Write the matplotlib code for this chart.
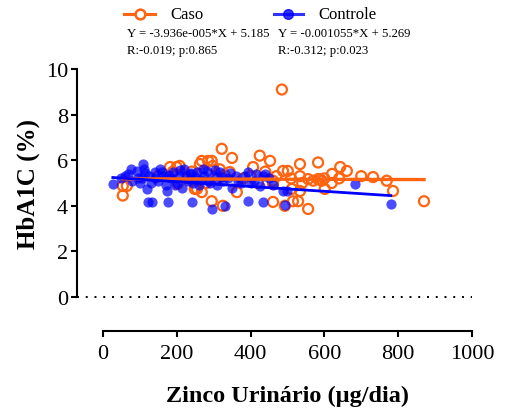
import numpy as np
import matplotlib
matplotlib.use("Agg")
import matplotlib.pyplot as plt
from matplotlib.lines import Line2D

# ---- data ----
caso_x = [54, 54, 65, 150, 182, 190, 200, 203, 208, 230, 241, 249, 255, 263, 268, 268,
          280, 285, 295, 295, 298, 310, 317, 322, 325, 330, 344, 350, 363, 380, 400,
          407, 420, 425, 440, 453, 461, 461, 461, 470, 485, 488, 493, 501, 510, 512,
          515, 529, 534, 534, 534, 540, 556, 556, 570, 583, 583, 588, 593, 600, 601,
          620, 621, 640, 643, 661, 700, 732, 769, 786, 870]
caso_y = [4.87, 4.45, 4.87, 5.3, 5.7, 5.5, 5.7, 4.96, 5.75, 5.2, 5.5, 4.74, 4.74, 5.83,
          5.97, 4.6, 5.0, 5.97, 5.97, 4.2, 5.75, 5.2, 5.6, 6.5, 4.0, 5.35, 5.48, 6.1,
          4.6, 5.2, 5.3, 5.7, 5.0, 6.2, 5.5, 5.97, 5.1, 4.96, 4.17, 5.3, 9.1, 5.53,
          4.0, 5.53, 5.2, 4.74, 4.2, 4.2, 5.83, 5.3, 4.65, 5.0, 5.17, 3.86, 5.1, 5.9,
          5.17, 5.17, 5.1, 5.2, 4.74, 5.0, 5.4, 5.2, 5.7, 5.53, 5.3, 5.26, 5.1, 4.65, 4.2]

controle_x = [27, 50, 60, 68, 75, 80, 92, 95, 100, 105, 108, 112, 115, 119, 122, 125,
              130, 133, 140, 141, 150, 155, 160, 163, 170, 173, 176, 180, 185, 190,
              195, 200, 205, 210, 215, 220, 225, 230, 235, 240, 241, 245, 250, 255,
              260, 265, 270, 275, 282, 285, 290, 295, 300, 305, 310, 317, 320, 325,
              330, 340, 345, 350, 360, 365, 375, 385, 393, 393, 400, 410, 415, 425,
              434, 434, 439, 450, 460, 488, 493, 498, 683, 780]
controle_y = [4.96, 5.2, 5.3, 5.4, 5.6, 5.1, 5.53, 5.2, 5.0, 5.2, 5.83, 5.6, 5.45, 4.74,
              4.17, 5.3, 5.0, 4.17, 5.2, 5.48, 5.1, 5.6, 5.5, 5.3, 4.9, 4.65, 4.17,
              5.35, 5.2, 5.5, 4.9, 5.0, 5.3, 5.55, 4.8, 5.6, 5.3, 5.1, 5.4, 5.45, 4.17,
              5.0, 5.25, 5.5, 4.9, 5.15, 5.6, 5.3, 5.53, 5.1, 5.0, 3.86, 5.3, 5.55,
              4.9, 5.48, 5.25, 5.1, 4.0, 5.2, 5.45, 4.8, 5.3, 5.1, 5.0, 5.3, 5.48, 4.2,
              5.0, 5.1, 5.4, 4.87, 5.3, 4.17, 5.4, 5.2, 4.9, 4.65, 4.04, 4.65, 4.96, 4.1]

caso_fit = (-3.936e-005, 5.185)
controle_fit = (-0.001055, 5.269)

x_ticks = [0, 200, 400, 600, 800, 1000]
y_ticks = [0, 2, 4, 6, 8, 10]

orange = "#FF6410"
blue = "#0000FF"
serif = ["Liberation Serif", "DejaVu Serif"]
plt.rcParams["font.family"] = serif

fig = plt.figure(figsize=(5.08, 4.14), dpi=100)
ax = fig.add_axes([77 / 508, 1 - 298 / 414, 395 / 508, 228 / 414])

ax.scatter(caso_x, caso_y, s=52, facecolors="none", edgecolors=orange,
           linewidths=1.6, zorder=2)
ax.scatter(controle_x, controle_y, s=54, color=blue, alpha=0.7,
           linewidths=0, zorder=3)

xc = np.array([min(caso_x), max(caso_x)])
ax.plot(xc, caso_fit[0] * xc + caso_fit[1], color=orange, lw=2.4, zorder=4)
xb = np.array([min(controle_x), max(controle_x)])
ax.plot(xb, controle_fit[0] * xb + controle_fit[1], color=blue, lw=2.0, zorder=5)

ax.axhline(0, color="black", lw=1.4, ls=(0, (1, 3.5)), zorder=1, clip_on=False)

ax.set_xlim(-70, 1000)
ax.set_ylim(0, 10)
ax.set_xticks(x_ticks)
ax.set_yticks(y_ticks)
for s in ["top", "right"]:
    ax.spines[s].set_visible(False)
ax.spines["left"].set_bounds(0, 10)
ax.spines["bottom"].set_bounds(0, 1000)
ax.spines["bottom"].set_position(("outward", 24.5))
for s in ["left", "bottom"]:
    ax.spines[s].set_linewidth(1.5)
ax.tick_params(axis="both", length=4.5, width=1.5, labelsize=16, direction="out")
ax.tick_params(axis="y", pad=2)
ax.tick_params(axis="x", pad=5)

ax.set_ylabel("HbA1C (%)", fontsize=18, fontweight="bold")
ax.yaxis.set_label_coords(-37 / 395, 0.5)
ax.set_xlabel("Zinco Urinário (µg/dia)", fontsize=17.5, fontweight="bold")
ax.xaxis.set_label_coords((287.5 - 77) / 395, -88 / 228)

# legend / annotations
fy = 1 - 15 / 414
fig.add_artist(Line2D([124 / 508, 155 / 508], [fy, fy], color=orange, lw=2.2))
fig.add_artist(Line2D([140 / 508], [fy], marker="o", markersize=7, markerfacecolor="white",
                      markeredgecolor=orange, markeredgewidth=1.8, lw=0))
fig.text(170 / 508, fy, "Caso", fontsize=12, va="center", ha="left")
fig.add_artist(Line2D([274 / 508, 303 / 508], [fy, fy], color=blue, lw=2.2, alpha=0.8))
fig.add_artist(Line2D([288 / 508], [fy], marker="o", markersize=7, color=blue,
                      alpha=0.8, lw=0))
fig.text(318 / 508, fy, "Controle", fontsize=12, va="center", ha="left")

fig.text(127 / 508, 1 - 34 / 414, "Y = -3.936e-005*X + 5.185", fontsize=9.2,
         va="center", ha="left")
fig.text(127 / 508, 1 - 51 / 414, "R:-0.019; p:0.865", fontsize=9.2,
         va="center", ha="left")
fig.text(278 / 508, 1 - 34 / 414, "Y = -0.001055*X + 5.269", fontsize=9.2,
         va="center", ha="left")
fig.text(278 / 508, 1 - 51 / 414, "R:-0.312; p:0.023", fontsize=9.2,
         va="center", ha="left")

fig.savefig("out.png", dpi=100)
